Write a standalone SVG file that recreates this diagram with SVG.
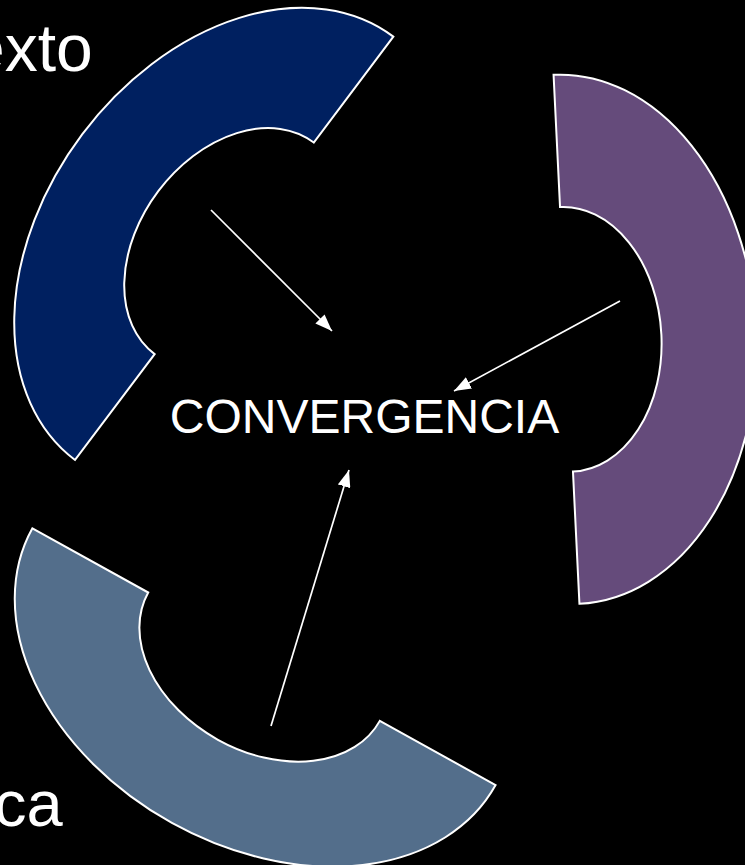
<svg xmlns="http://www.w3.org/2000/svg" width="745" height="865" viewBox="0 0 745 865">
<defs>
<style>
.arc{stroke:#ffffff;stroke-width:2;stroke-linejoin:miter}
.lbl{font-family:"Liberation Sans",Arial,sans-serif;fill:#ffffff}
.conn{stroke:#ffffff;stroke-width:1.7;fill:none}
</style>
<path id="blk" d="M0,-264.8 A190,264.8 0 0 1 0,264.8 L0,132.4 A95,132.4 0 0 0 0,-132.4 Z"/>
<marker id="ah" viewBox="0 0 17 13" refX="17" refY="6.5" markerWidth="17" markerHeight="13" markerUnits="userSpaceOnUse" orient="auto">
<path d="M0,0 L17,6.5 L0,13 Z" fill="#ffffff"/>
</marker>
</defs>
<rect x="0" y="0" width="745" height="865" fill="#000000"/>
<g id="arc-blue"><use href="#blk" class="arc" fill="#002060" transform="translate(234.2,248.3) rotate(-143.06)"/></g>
<g id="arc-purple"><use href="#blk" class="arc" fill="#654B7B" transform="translate(566.5,339.3) rotate(-2.8)"/></g>
<g id="arc-slate"><use href="#blk" class="arc" fill="#536E8B" transform="translate(264,656.7) rotate(119)"/></g>
<g id="label-contexto"><text class="lbl" x="-32" y="71" font-size="66">exto</text></g>
<g id="label-ca"><text class="lbl" x="-6" y="826" font-size="65">ca</text></g>
<g id="center"><text class="lbl" x="364.5" y="433" font-size="48" text-anchor="middle">CONVERGENCIA</text></g>
<g id="connectors">
<line class="conn" x1="211" y1="210" x2="332" y2="331" marker-end="url(#ah)"/>
<line class="conn" x1="620" y1="301" x2="454" y2="391" marker-end="url(#ah)"/>
<line class="conn" x1="271" y1="726" x2="349" y2="470" marker-end="url(#ah)"/>
</g>
</svg>
